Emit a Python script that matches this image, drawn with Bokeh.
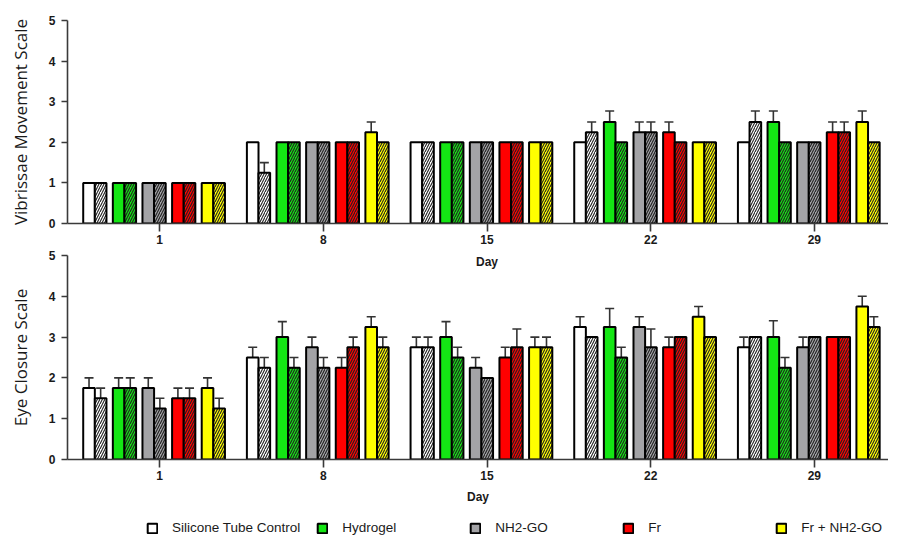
from bokeh.plotting import figure
from bokeh.models import (ColumnDataSource, Range1d, FixedTicker, Whisker, TeeHead,
                          Legend, LegendItem, Label)
from bokeh.transform import dodge
from bokeh.layouts import column
from bokeh.embed import file_html
from bokeh.resources import INLINE

# ---------------- data ----------------
days = [1, 8, 15, 22, 29]
groups = ["Silicone Tube Control", "Hydrogel", "NH2-GO", "Fr", "Fr + NH2-GO"]
colors = ["#FFFFFF", "#14E614", "#A3A3A6", "#FF0000", "#FFFF00"]
x_title = "Day"

# Vibrissae Movement Scale: solid bars / hatched bars, per group over days
vib_solid = [
    [1, 2, 2, 2, 2],
    [1, 2, 2, 2.5, 2.5],
    [1, 2, 2, 2.25, 2],
    [1, 2, 2, 2.25, 2.25],
    [1, 2.25, 2, 2, 2.5],
]
vib_solid_err = [
    [0, 0, 0, 0, 0],
    [0, 0, 0, 0.27, 0.27],
    [0, 0, 0, 0.25, 0],
    [0, 0, 0, 0.25, 0.25],
    [0, 0.25, 0, 0, 0.27],
]
vib_hatch = [
    [1, 1.25, 2, 2.25, 2.5],
    [1, 2, 2, 2, 2],
    [1, 2, 2, 2.25, 2],
    [1, 2, 2, 2, 2.25],
    [1, 2, 2, 2, 2],
]
vib_hatch_err = [
    [0, 0.25, 0, 0.25, 0.27],
    [0, 0, 0, 0, 0],
    [0, 0, 0, 0.25, 0],
    [0, 0, 0, 0, 0.25],
    [0, 0, 0, 0, 0],
]

# Eye Closure Scale
eye_solid = [
    [1.75, 2.5, 2.75, 3.25, 2.75],
    [1.75, 3.0, 3.0, 3.25, 3.0],
    [1.75, 2.75, 2.25, 3.25, 2.75],
    [1.5, 2.25, 2.5, 2.75, 3.0],
    [1.75, 3.25, 2.75, 3.5, 3.75],
]
eye_solid_err = [
    [0.25, 0.25, 0.25, 0.25, 0.25],
    [0.25, 0.38, 0.38, 0.45, 0.4],
    [0.25, 0.25, 0.25, 0.25, 0.25],
    [0.25, 0.25, 0.25, 0.25, 0],
    [0.25, 0.25, 0.25, 0.25, 0.25],
]
eye_hatch = [
    [1.5, 2.25, 2.75, 3.0, 3.0],
    [1.75, 2.25, 2.5, 2.5, 2.25],
    [1.25, 2.25, 2.0, 2.75, 3.0],
    [1.5, 2.75, 2.75, 3.0, 3.0],
    [1.25, 2.75, 2.75, 3.0, 3.25],
]
eye_hatch_err = [
    [0.25, 0.25, 0.25, 0, 0],
    [0.25, 0.25, 0.25, 0.25, 0.25],
    [0.25, 0.25, 0, 0.45, 0],
    [0.25, 0.25, 0.45, 0, 0],
    [0.25, 0.25, 0.25, 0, 0.25],
]

y_ticks = [0, 1, 2, 3, 4, 5]

# ---------------- layout constants ----------------
FIG_W = 883
BAR_W = 0.071
PAIR_STEP = 0.181
PAIR_SHIFT = -0.034
AX_COLOR = "#3a3a3a"
TICK_FONT = "Liberation Sans"


def make_fig(height, top_border, bottom_border, ylabel, with_xlabel):
    p = figure(width=FIG_W, height=height, output_backend="svg", toolbar_location=None,
               x_range=Range1d(-0.563, 4.453), y_range=Range1d(0, 5),
               min_border_left=59, min_border_right=0,
               min_border_top=top_border, min_border_bottom=bottom_border)
    p.xgrid.visible = False
    p.ygrid.visible = False
    p.outline_line_color = None
    p.background_fill_alpha = 0
    p.border_fill_alpha = 0

    p.xaxis.ticker = FixedTicker(ticks=list(range(len(days))))
    p.xaxis.major_label_overrides = {i: str(d) for i, d in enumerate(days)}
    if with_xlabel:
        p.xaxis.axis_label = x_title
    p.xaxis.major_tick_out = 8
    p.xaxis.major_tick_in = 0
    p.xaxis.minor_tick_line_color = None
    p.xaxis.major_label_standoff = 3
    p.xaxis.axis_label_standoff = 7

    p.yaxis.ticker = FixedTicker(ticks=y_ticks)
    p.yaxis.axis_label = ylabel
    p.yaxis.major_tick_out = 6
    p.yaxis.major_tick_in = 0
    p.yaxis.minor_tick_line_color = None
    p.yaxis.major_label_standoff = 6
    p.yaxis.axis_label_standoff = 14

    for ax in (p.xaxis[0], p.yaxis[0]):
        ax.axis_line_color = AX_COLOR
        ax.axis_line_width = 1.6
        ax.major_tick_line_color = AX_COLOR
        ax.major_tick_line_width = 1.6
        ax.major_label_text_font = TICK_FONT
        ax.major_label_text_font_style = "bold"
        ax.major_label_text_font_size = "12px"
        ax.major_label_text_color = "#1a1a1a"
    p.xaxis.axis_label_text_font = TICK_FONT
    p.xaxis.axis_label_text_font_style = "bold"
    p.xaxis.axis_label_text_font_size = "12px"
    p.xaxis.axis_label_text_color = "#1a1a1a"
    p.yaxis.axis_label_text_font = "Open Sans"
    p.yaxis.axis_label_text_font_style = "normal"
    p.yaxis.axis_label_text_font_size = "17px"
    p.yaxis.axis_label_text_color = "#1a1a1a"
    return p


def draw_panel(p, solid, solid_err, hatch, hatch_err):
    xi = list(range(len(days)))
    for gi in range(len(groups)):
        pair = PAIR_SHIFT + (gi - 2) * PAIR_STEP
        for kind, vals, errs in ((0, solid[gi], solid_err[gi]), (1, hatch[gi], hatch_err[gi])):
            off = pair + (kind - 0.5) * BAR_W
            src = ColumnDataSource(dict(xi=xi, top=vals))
            kw = {}
            if kind == 1:
                kw = dict(hatch_pattern="/", hatch_color="#202020", hatch_scale=5, hatch_weight=1.1)
            p.vbar(x=dodge("xi", off, range=p.x_range), top="top", bottom=0, width=BAR_W,
                   source=src, fill_color=colors[gi], line_color="black", line_width=2, **kw)
            idx = [i for i, e in enumerate(errs) if e > 0]
            if idx:
                wsrc = ColumnDataSource(dict(xi=idx, lower=[vals[i] for i in idx],
                                             upper=[vals[i] + errs[i] for i in idx]))
                w = Whisker(source=wsrc, base=dodge("xi", off, range=p.x_range),
                            lower="lower", upper="upper", dimension="height",
                            line_color="#333333", line_width=1.6,
                            upper_head=TeeHead(size=9, line_color="#333333", line_width=1.6),
                            lower_head=None)
                p.add_layout(w)


p1 = make_fig(242, 13, 26, "Vibrissae Movement Scale", False)
draw_panel(p1, vib_solid, vib_solid_err, vib_hatch, vib_hatch_err)

p2 = make_fig(257, 6, 46, "Eye Closure Scale", True)
draw_panel(p2, eye_solid, eye_solid_err, eye_hatch, eye_hatch_err)

# x title of the upper panel sits in the free space at the top of the lower panel
p2.add_layout(Label(x=2, y=4.83, text=x_title, text_align="center", text_baseline="middle",
                    text_font=TICK_FONT, text_font_style="bold", text_font_size="12px",
                    text_color="#1a1a1a"))

# legend strip (swatch renderers carry no visible marks)
pl = figure(width=FIG_W, height=30, output_backend="svg", toolbar_location=None,
            x_range=Range1d(0, 1), y_range=Range1d(0, 1),
            x_axis_location=None, y_axis_location=None,
            min_border_left=0, min_border_right=0, min_border_top=0, min_border_bottom=0)
pl.grid.visible = False
pl.outline_line_color = None
pl.background_fill_alpha = 0
pl.border_fill_alpha = 0
swatches = [pl.vbar(x=[0], top=[float("nan")], width=0.1, fill_color=c,
                    line_color="black", line_width=2) for c in colors]
legend = Legend(items=[LegendItem(label=g, renderers=[r]) for g, r in zip(groups, swatches)],
                orientation="horizontal", location=(79, 1),
                glyph_width=12, glyph_height=12, label_standoff=14, spacing=16,
                label_width=111, padding=0, margin=0,
                border_line_color=None, background_fill_alpha=0,
                label_text_font="Liberation Sans", label_text_font_size="13.5px",
                label_text_color="#1a1a1a")
pl.add_layout(legend)

layout = column(p1, p2, pl, spacing=0)
layout.margin = (7, 0, 0, 5)
open("out.html", "w").write(file_html(layout, INLINE))
